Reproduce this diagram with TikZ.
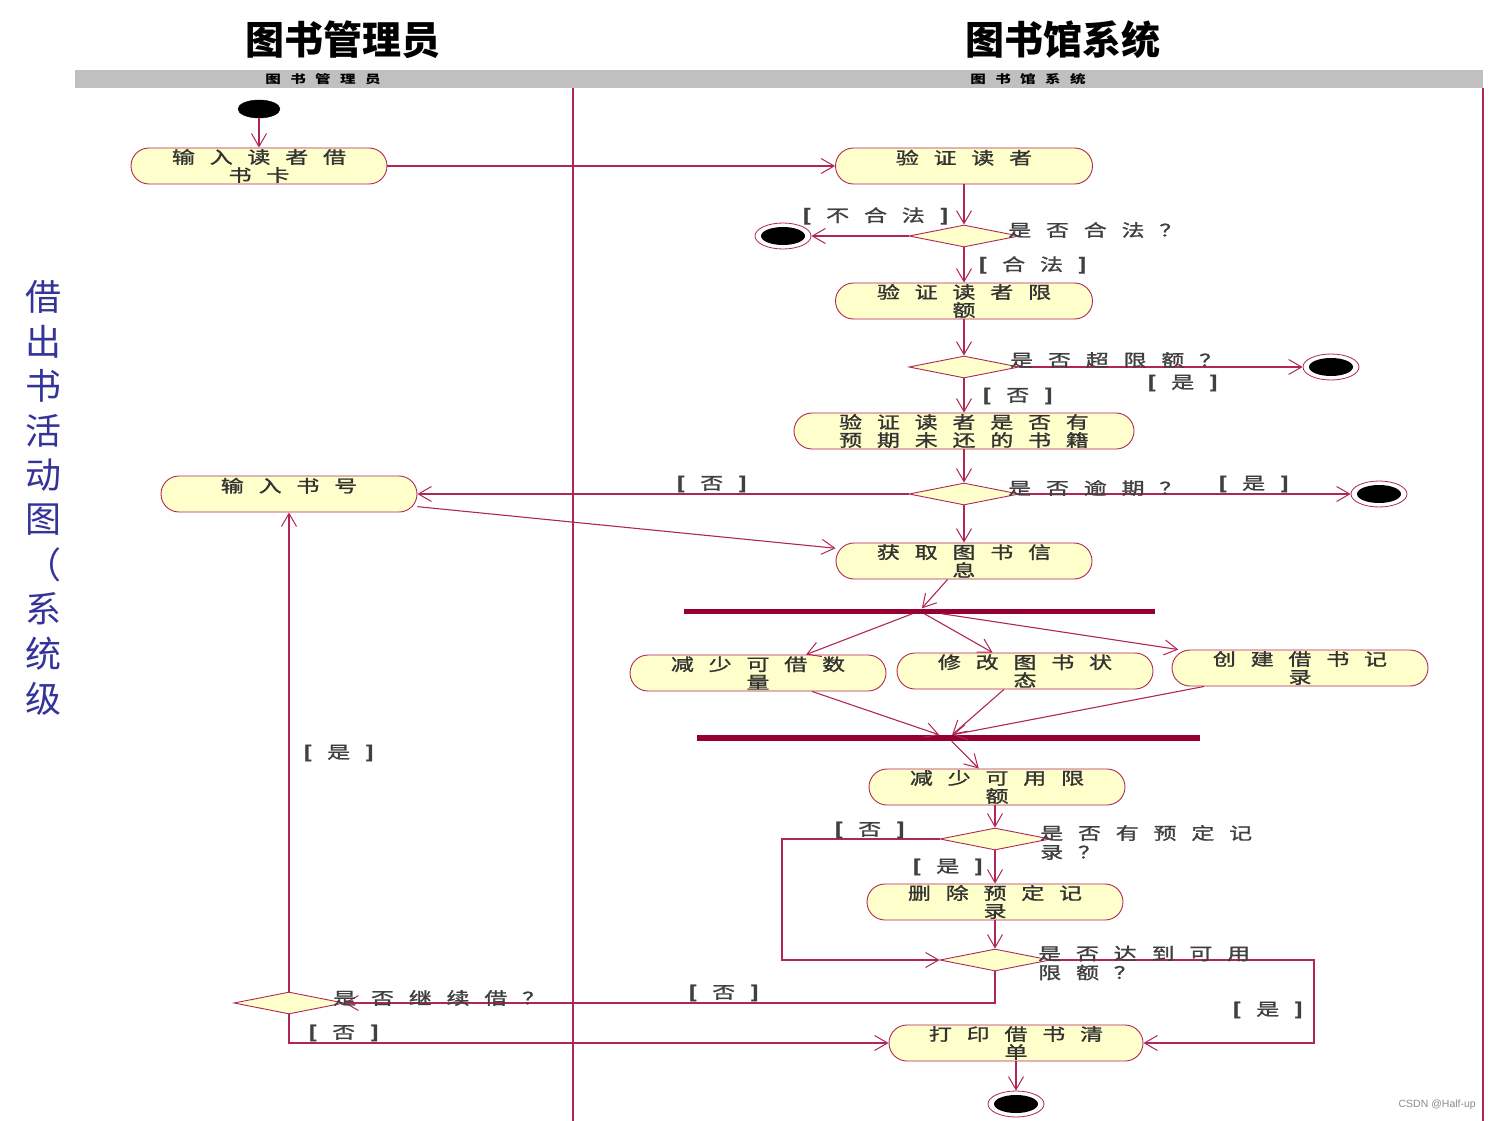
\documentclass[tikz,border=0pt]{standalone}
\usepackage{fontspec}
\usepackage{graphicx}
\usetikzlibrary{arrows.meta,shapes.geometric}
\newfontfamily\cjk{Noto Sans CJK SC}
\newfontfamily\cjkn{Noto Sans CJK SC}[FakeBold=1.2]
\newfontfamily\wmfont{Liberation Sans}
\definecolor{umlred}{RGB}{176,38,88}
\definecolor{barred}{RGB}{150,0,48}
\definecolor{actfill}{RGB}{255,255,204}
\definecolor{lanegray}{RGB}{192,192,192}
\definecolor{vtblue}{RGB}{51,51,153}
\newcommand\gp{\hspace{11pt}}
\newcommand\hgp{\hspace{7pt}}
\newcommand\sx[1]{\scalebox{1.35}[1]{#1}}
\newcommand\brk[1]{\sx{\textbf{[}\gp#1\gp\textbf{]}}}

\begin{document}
\begin{tikzpicture}[x=1pt,y=-1pt,
 act/.style={rectangle, rounded corners=18pt, draw=umlred, line width=0.9pt, fill=actfill, minimum width=256pt, minimum height=36pt, inner sep=0pt, align=center, font=\cjkn\fontsize{17}{18}\selectfont, text=black!80},
 dec/.style={diamond, draw=umlred, line width=0.9pt, fill=actfill, minimum width=110pt, minimum height=22pt, inner sep=0pt},
 startnode/.style={ellipse, fill=black, draw=black, minimum width=42pt, minimum height=18pt, inner sep=0pt},
 endouter/.style={ellipse, draw=umlred, fill=white, line width=0.8pt, minimum width=56pt, minimum height=26pt, inner sep=0pt},
 endinner/.style={ellipse, fill=black, minimum width=44pt, minimum height=18pt, inner sep=0pt},
 forkbar/.style={rectangle, fill=barred, inner sep=0pt},
 flow/.style={draw=umlred, line width=1.1pt, -{Straight Barb[length=13pt,width=15pt,line width=1pt]}},
 lbl/.style={font=\cjkn\fontsize{17}{19}\selectfont, text=black!75, inner sep=0pt, anchor=west, align=left},
 lane/.style={draw=umlred, line width=1.3pt},
]
\fill[white] (0,0) rectangle (1491,1121);
\useasboundingbox (0,0) rectangle (1491,1121);

% titles and header
\node[font=\cjk\bfseries\fontsize{39}{42}\selectfont] (t1) at (343,40) {图书管理员};
\node[font=\cjk\bfseries\fontsize{39}{42}\selectfont] (t2) at (1063,40) {图书馆系统};
\fill[lanegray] (75,70) rectangle (1483,88);
\node[font=\cjk\bfseries\fontsize{11.5}{12}\selectfont] (h1) at (323,79) {\sx{图\hgp 书\hgp 管\hgp 理\hgp 员}};
\node[font=\cjk\bfseries\fontsize{11.5}{12}\selectfont] (h2) at (1028,79) {\sx{图\hgp 书\hgp 馆\hgp 系\hgp 统}};
\draw[lane] (573,88) -- (573,1121);
\draw[lane] (1483,88) -- (1483,1121);

% vertical side text
\foreach \c [count=\i] in {借,出,书,活,动,图,（,系,统,级}
  \node[font=\cjk\fontsize{36}{36}\selectfont, text=vtblue] (v\i) at (43,{297+44.6*(\i-1)}) {\c};

% nodes
\node[startnode] (s) at (259,109) {};
\node[act] (a1) at (259,166) {\sx{输\gp 入\gp 读\gp 者\gp 借}\\\sx{书\gp 卡}};
\node[act, minimum width=257pt] (a2) at (964,166) {\sx{验\gp 证\gp 读\gp 者}\\\mbox{}};
\node[dec] (d1) at (964,236) {};
\node[endouter] (e1) at (783,236) {};
\node[endinner] (e1i) at (783,236) {};
\node[act, minimum width=257pt] (a3) at (964,301) {\sx{验\gp 证\gp 读\gp 者\gp 限}\\\sx{额}};
\node[dec] (d2) at (964,367) {};
\node[endouter] (e2) at (1331,367) {};
\node[endinner] (e2i) at (1331,367) {};
\node[act, minimum width=340pt] (a4) at (964,431) {\sx{验\gp 证\gp 读\gp 者\gp 是\gp 否\gp 有}\\\sx{预\gp 期\gp 未\gp 还\gp 的\gp 书\gp 籍}};
\node[dec] (d3) at (964,494) {};
\node[endouter] (e3) at (1379,494) {};
\node[endinner] (e3i) at (1379,494) {};
\node[act] (a5) at (289,494) {\sx{输\gp 入\gp 书\gp 号}\\\mbox{}};
\node[act] (a6) at (964,561) {\sx{获\gp 取\gp 图\gp 书\gp 信}\\\sx{息}};
\node[forkbar, minimum width=471pt, minimum height=5pt] (b1) at (919.5,611) {};
\node[act] (a7) at (758,673) {\sx{减\gp 少\gp 可\gp 借\gp 数}\\\sx{量}};
\node[act] (a8) at (1025,671) {\sx{修\gp 改\gp 图\gp 书\gp 状}\\\sx{态}};
\node[act] (a9) at (1300,668) {\sx{创\gp 建\gp 借\gp 书\gp 记}\\\sx{录}};
\node[forkbar, minimum width=503pt, minimum height=6pt] (b2) at (948.5,738) {};
\node[act] (a10) at (997,787) {\sx{减\gp 少\gp 可\gp 用\gp 限}\\\sx{额}};
\node[dec] (d4) at (995,839) {};
\node[act] (a11) at (995,902) {\sx{删\gp 除\gp 预\gp 定\gp 记}\\\sx{录}};
\node[dec] (d5) at (995,960) {};
\node[dec] (d6) at (289,1003) {};
\node[act, minimum width=254pt] (a12) at (1016,1043) {\sx{打\gp 印\gp 借\gp 书\gp 清}\\\sx{单}};
\node[endouter] (e4) at (1016,1104) {};
\node[endinner] (e4i) at (1016,1104) {};

\coordinate (l1c) at (782,839);
\coordinate (r1) at (1314,960);

% connectors
\draw[flow] (s) -- (a1);
\draw[flow] (a1) -- (a2);
\draw[flow] (a2) -- (d1);
\draw[flow] (d1) -- (e1);
\draw[flow] (d1) -- (a3);
\draw[flow] (a3) -- (d2);
\draw[flow] (d2) -- (e2);
\draw[flow] (d2) -- (a4);
\draw[flow] (a4) -- (d3);
\draw[flow] (d3) -- (a5);
\draw[flow] (d3) -- (e3);
\draw[flow] (d3) -- (a6);
\draw[flow] (a5) -- (a6);
\draw[flow] (a6) -- (b1);
\draw[flow] (b1) -- (a7);
\draw[flow] (b1) -- (a8);
\draw[flow] ([xshift=22pt]b1.south) -- (a9);
\draw[flow] (a7) -- (b2);
\draw[flow] (a8) -- (b2);
\draw[flow] (a9) -- ([xshift=4pt]b2.north);
\draw[flow] (b2) -- (a10);
\draw[flow] (d4.north |- a10.south) -- (d4.north);
\draw[flow] (d4.west) -- (l1c) |- (d5.west);
\draw[flow] (d4) -- (a11);
\draw[flow] (a11) -- (d5);
\draw[flow] (d5.east) -- (r1) |- (a12.east);
\draw[flow] (d5.south) |- (d6.east);
\draw[flow] (d6) -- (a5);
\draw[flow] (d6.south) |- (a12.west);
\draw[flow] (a12) -- (e4);

% labels
\node[lbl] (g1) at (802,216) {\brk{不\gp 合\gp 法}};
\node[lbl] (q1) at (1008,230) {\sx{是\gp 否\gp 合\gp 法\gp ？}};
\node[lbl] (g2) at (978,265) {\brk{合\gp 法}};
\node[lbl] (q2) at (1010,360) {\sx{是\gp 否\gp 超\gp 限\gp 额\gp ？}};
\node[lbl] (g3) at (1147,383) {\brk{是}};
\node[lbl] (g4) at (982,396) {\brk{否}};
\node[lbl] (g5) at (676,484) {\brk{否}};
\node[lbl] (q3) at (1008,488) {\sx{是\gp 否\gp 逾\gp 期\gp ？}};
\node[lbl] (g6) at (1218,484) {\brk{是}};
\node[lbl] (g7) at (303,753) {\brk{是}};
\node[lbl] (g8) at (834,830) {\brk{否}};
\node[lbl] (q4) at (1040,842.5) {\sx{是\gp 否\gp 有\gp 预\gp 定\gp 记}\\\sx{录\gp ？}};
\node[lbl] (g9) at (912,867) {\brk{是}};
\node[lbl] (q5) at (1038,963) {\sx{是\gp 否\gp 达\gp 到\gp 可\gp 用}\\\sx{限\gp 额\gp ？}};
\node[lbl] (q6) at (333,998) {\sx{是\gp 否\gp 继\gp 续\gp 借\gp ？}};
\node[lbl] (g10) at (688,993) {\brk{否}};
\node[lbl] (g11) at (1232,1010) {\brk{是}};
\node[lbl] (g12) at (308,1033) {\brk{否}};

\node[font=\wmfont\fontsize{10.5}{12}\selectfont, text=black!45, anchor=east, inner sep=0pt] (wm) at (1476,1105) {CSDN @Half-up};
\end{tikzpicture}
\end{document}
